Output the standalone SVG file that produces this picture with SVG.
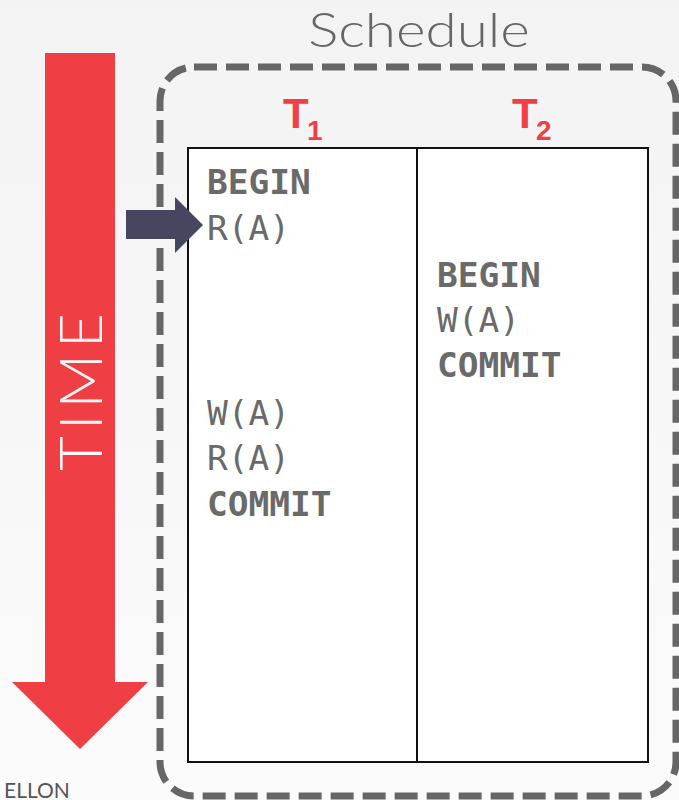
<svg xmlns="http://www.w3.org/2000/svg" width="679" height="800" viewBox="0 0 679 800">
  <defs>
    <linearGradient id="bg" x1="0" y1="0" x2="0" y2="1">
      <stop offset="0" stop-color="#f3f3f3"/>
      <stop offset="1" stop-color="#fbfbfb"/>
    </linearGradient>
  </defs>
  <style>
    .title { font-family: Lato, "Open Sans", sans-serif; font-weight: 300; font-size: 48px; fill: #666666; }
    .time { font-family: Lato, "Open Sans", sans-serif; font-weight: 300; font-size: 60px; fill: #f6f6f6; letter-spacing: 6px; }
    .txn { font-family: "Liberation Sans", Arial, sans-serif; font-weight: bold; fill: #ef4046; }
    .op { font-family: "DejaVu Sans Mono", monospace; font-size: 34.5px; fill: #6a6a6a; }
    .kw { font-weight: bold; }
    .footer { font-family: Lato, "Open Sans", sans-serif; font-weight: 400; font-size: 21px; fill: #555555; }
  </style>

  <rect width="679" height="800" fill="url(#bg)"/>

  <!-- Time arrow -->
  <g id="time-arrow">
    <polygon points="45,53 115,53 115,682 148,682 80,749 12,682 45,682" fill="#ef3f44"/>
    <text class="time" transform="translate(102,389) rotate(-90)" text-anchor="middle">TIME</text>
  </g>

  <!-- Schedule boundary -->
  <g id="schedule">
    <text class="title" transform="translate(419,47) scale(1.18,1)" text-anchor="middle">Schedule</text>
    <rect x="160" y="67" width="516" height="729" rx="34" ry="34" fill="none" stroke="#666666" stroke-width="7" stroke-dasharray="23 9"/>
  </g>

  <!-- Transaction table -->
  <g id="table">
    <rect x="188" y="148" width="460" height="614" fill="#ffffff" stroke="#111111" stroke-width="2"/>
    <line x1="417" y1="148" x2="417" y2="762" stroke="#111111" stroke-width="2"/>
  </g>

  <g id="t1">
    <text class="txn" x="283" y="128" font-size="42">T</text>
    <text class="txn" x="307" y="140" font-size="28">1</text>
    <text class="op kw" x="207" y="194">BEGIN</text>
    <text class="op" x="207" y="240">R(A)</text>
    <text class="op" x="207" y="425">W(A)</text>
    <text class="op" x="207" y="470">R(A)</text>
    <text class="op kw" x="207" y="516">COMMIT</text>
  </g>

  <g id="t2">
    <text class="txn" x="512" y="128" font-size="42">T</text>
    <text class="txn" x="536" y="140" font-size="28">2</text>
    <text class="op kw" x="437" y="287">BEGIN</text>
    <text class="op" x="437" y="332">W(A)</text>
    <text class="op kw" x="437" y="377">COMMIT</text>
  </g>

  <!-- Current-step pointer -->
  <g id="pointer">
    <polygon points="126,210 175,210 175,197 203,225 175,253 175,239 126,239" fill="#464660"/>
  </g>

  <text class="footer" x="4" y="798">ELLON</text>
</svg>
